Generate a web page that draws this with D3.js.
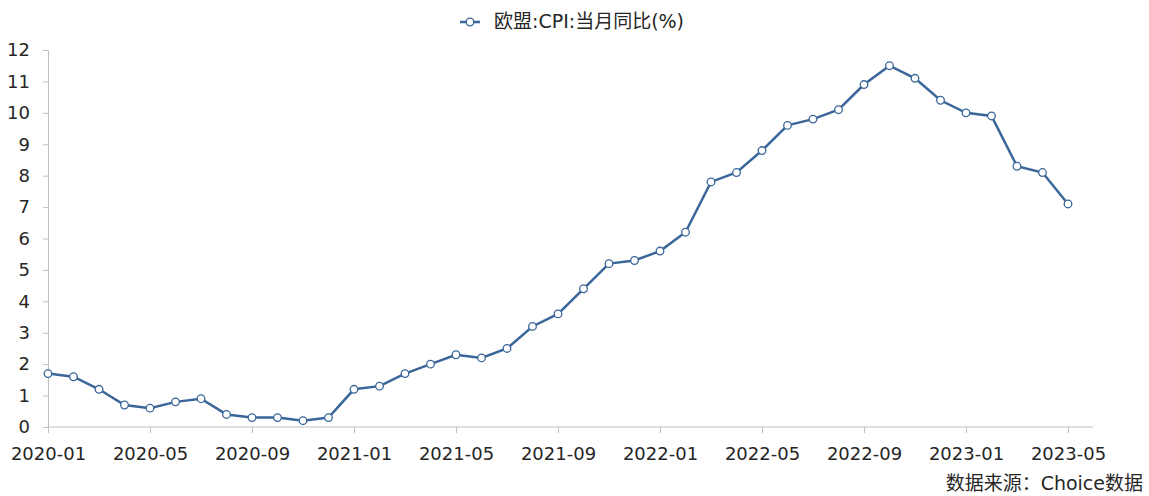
<!DOCTYPE html>
<html>
<head>
<meta charset="utf-8">
<script src="https://cdn.jsdelivr.net/npm/d3@7"></script>
<style>
  body { margin: 0; background: #fff; }
  svg text { font-family: "DejaVu Sans", "Noto Sans CJK SC", sans-serif; }
</style>
</head>
<body>
<svg id="chart"></svg>
<script>
// data, one value per month 2020-01 .. 2023-05
var months = [];
for (var y = 2020; y <= 2023; y++) {
  for (var m = 1; m <= 12; m++) {
    if (y == 2023 && m > 5) break;
    months.push(y + "-" + (m < 10 ? "0" + m : m));
  }
}
var cpiValues = [1.7, 1.6, 1.2, 0.7, 0.6, 0.8, 0.9, 0.4, 0.3, 0.3, 0.2, 0.3,
                 1.2, 1.3, 1.7, 2.0, 2.3, 2.2, 2.5, 3.2, 3.6, 4.4, 5.2, 5.3,
                 5.6, 6.2, 7.8, 8.1, 8.8, 9.6, 9.8, 10.1, 10.9, 11.5, 11.1, 10.4,
                 10.0, 9.9, 8.3, 8.1, 7.1];
var xTickLabels = ["2020-01", "2020-05", "2020-09", "2021-01", "2021-05", "2021-09",
                   "2022-01", "2022-05", "2022-09", "2023-01", "2023-05"];
var yTicks = [0, 1, 2, 3, 4, 5, 6, 7, 8, 9, 10, 11, 12];
var seriesName = "欧盟:CPI:当月同比(%)";
var sourceText = "数据来源：Choice数据";

var width = 1149, height = 496;
var LineColor = "#3a6699", AxisColor = "#bfbfbf", TextColor = "#262626";
var margin = {left: 48, top: 50, bottom: 69};

var svg = d3.select("#chart")
    .attr("width", width)
    .attr("height", height);

var x = d3.scalePoint()
    .domain(months)
    .range([margin.left, 1068]);
var y = d3.scaleLinear()
    .domain([0, 12])
    .range([height - margin.bottom, margin.top]);

// y axis
var yAxis = svg.append("g")
    .attr("transform", "translate(" + margin.left + ",0)")
    .call(d3.axisLeft(y).tickValues(yTicks).tickSize(5).tickPadding(13));
yAxis.select(".domain").attr("stroke", AxisColor);
yAxis.selectAll(".tick line").attr("stroke", AxisColor);
yAxis.selectAll("text")
    .style("font-size", "18px")
    .attr("fill", TextColor);

// x axis, line runs a bit past last month
var xAxis = svg.append("g")
    .attr("transform", "translate(0," + y(0) + ")")
    .call(d3.axisBottom(x).tickValues(xTickLabels).tickSize(6).tickPadding(14));
xAxis.select(".domain").remove();
xAxis.append("line")
    .attr("x1", margin.left).attr("x2", 1093)
    .attr("stroke", AxisColor);
xAxis.selectAll(".tick line").attr("stroke", AxisColor);
xAxis.selectAll("text")
    .style("font-size", "18px")
    .attr("fill", TextColor);

// the line
var line = d3.line()
    .x(function(d, i) { return x(months[i]); })
    .y(function(d) { return y(d); });
svg.append("path")
    .datum(cpiValues)
    .attr("d", line)
    .attr("fill", "none")
    .attr("stroke", LineColor)
    .attr("stroke-width", 2.5);

svg.selectAll("circle.pt")
    .data(cpiValues)
    .enter().append("circle")
    .attr("class", "pt")
    .attr("cx", function(d, i) { return x(months[i]); })
    .attr("cy", function(d) { return y(d); })
    .attr("r", 3.8)
    .attr("fill", "#fff")
    .attr("stroke", LineColor)
    .attr("stroke-width", 1.3);

// legend
var lg = svg.append("g").attr("transform", "translate(460,22)");
lg.append("line").attr("x1", 0).attr("x2", 20)
    .attr("stroke", LineColor).attr("stroke-width", 2.5);
lg.append("circle").attr("cx", 10).attr("r", 3.8)
    .attr("fill", "#fff").attr("stroke", LineColor).attr("stroke-width", 1.3);
lg.append("text")
    .attr("x", 34).attr("y", 6)
    .style("font-size", "19px")
    .attr("fill", TextColor)
    .text(seriesName);

// source note
svg.append("text")
    .attr("x", 1143).attr("y", 490)
    .attr("text-anchor", "end")
    .style("font-size", "19px")
    .attr("fill", TextColor)
    .text(sourceText);
</script>
</body>
</html>
